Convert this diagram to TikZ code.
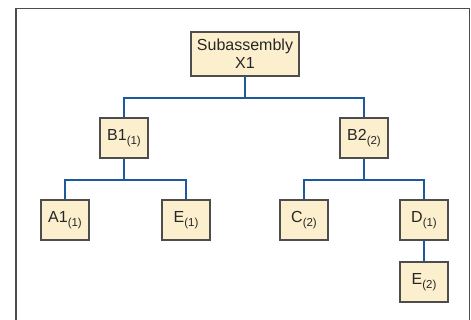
\documentclass[tikz,border=0pt]{standalone}
\usepackage{fontspec}
\setmainfont{Liberation Sans}
\usetikzlibrary{positioning}
\definecolor{partfill}{HTML}{FCEFCE}
\definecolor{partedge}{HTML}{4D4D4D}
\definecolor{linkblue}{HTML}{1C5A9C}
\newcommand{\partqty}[1]{\raisebox{-0.5ex}{\fontsize{11.5}{11.5}\selectfont(#1)}}

\begin{document}
\begin{tikzpicture}[x=1pt,y=1pt,
    part/.style={draw=partedge,fill=partfill,line width=1.1pt,
      minimum width=48pt,minimum height=40pt,inner sep=0pt,
      font=\fontsize{16}{18}\selectfont,text=black!85},
    link/.style={draw=linkblue,line width=2pt}]
  \useasboundingbox (0,0) rectangle (471,-320);
  % Frame
  \draw[gray!60!black,line width=1.5pt]
    (16,-321) -- (16,-8.5) -- (469.5,-8.5) -- (469.5,-321);
  % Parts
  \node[part,minimum width=108pt,minimum height=44pt,align=center]
    (x1) at (245,-54) {Subassembly\\X1};
  \node[part] (b1) at (124,-138) {B1\partqty{1}};
  \node[part] (b2) at (364,-138) {B2\partqty{2}};
  \node[part] (a1) at (65,-220) {A1\partqty{1}};
  \node[part] (e1) at (186,-220) {E\partqty{1}};
  \node[part] (c2) at (304,-220) {C\partqty{2}};
  \node[part] (d1) at (424,-220) {D\partqty{1}};
  \node[part] (e2) at (424,-282) {E\partqty{2}};
  % Links
  \draw[link] (x1.south) -- ++(0,-21) coordinate (jx);
  \draw[link] (b1.north) |- (jx) -| (b2.north);
  \draw[link] (b1.south) -- ++(0,-21) coordinate (jb1);
  \draw[link] (a1.north) |- (jb1) -| (e1.north);
  \draw[link] (b2.south) -- ++(0,-21) coordinate (jb2);
  \draw[link] (c2.north) |- (jb2) -| (d1.north);
  \draw[link] (d1.south) -- (e2.north);
\end{tikzpicture}
\end{document}
